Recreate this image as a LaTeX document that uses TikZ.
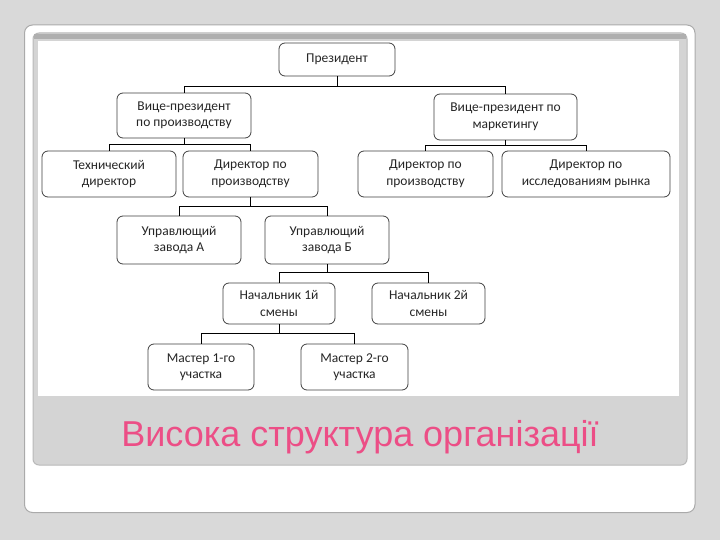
\documentclass[tikz,border=0pt]{standalone}
\usepackage{fontspec}
\setmainfont{Carlito}
\newfontfamily\titlefont{Liberation Sans}
\definecolor{bgc}{RGB}{217,217,217}
\definecolor{cardedge}{RGB}{170,170,170}
\definecolor{bandedge}{RGB}{185,185,185}
\definecolor{bandfill}{RGB}{212,212,212}
\definecolor{bandtop}{RGB}{175,175,175}
\definecolor{titlepink}{RGB}{236,78,134}
\begin{document}
\begin{tikzpicture}[x=1pt,y=-1pt,
  box/.style={draw=black!75,line width=0.8pt,rounded corners=6pt,fill=white,align=center,
    inner sep=0pt,font=\fontsize{13.5}{16.5}\selectfont,text=black!85},
  conn/.style={draw=black,line width=0.9pt}]
\useasboundingbox (0,0) rectangle (720,540);
\fill[bgc] (0,0) rectangle (720,540);
% card
\draw[draw=cardedge,line width=1pt,fill=white,rounded corners=8pt] (24.5,25) rectangle (695,512.5);
% band
\draw[draw=bandedge,line width=1pt,fill=bandfill,rounded corners=6pt] (33,33) rectangle (687,465);
\fill[bandtop] (34,34) rectangle (686,39);
\fill[white] (38,41) rectangle (679,396);
% nodes
\node[box,minimum width=116pt,minimum height=33pt] (pres) at (337,59.5) {Президент};
\node[box,minimum width=134pt,minimum height=45pt] (vp1) at (184,115.5) {Вице-президент\\по производству};
\node[box,minimum width=143pt,minimum height=46pt] (vp2) at (505.5,117) {Вице-президент по\\маркетингу};
\node[box,minimum width=134pt,minimum height=46pt] (tech) at (109,174) {Технический\\директор};
\node[box,minimum width=135pt,minimum height=46pt] (dir1) at (250.5,174) {Директор по\\производству};
\node[box,minimum width=135pt,minimum height=46pt] (dir2) at (425.5,174) {Директор по\\производству};
\node[box,minimum width=168pt,minimum height=46pt] (dir3) at (586,174) {Директор по\\исследованиям рынка};
\node[box,minimum width=124pt,minimum height=48pt] (ua) at (179,240) {Управлющий\\завода А};
\node[box,minimum width=124pt,minimum height=48pt] (ub) at (327,240) {Управлющий\\завода Б};
\node[box,minimum width=112pt,minimum height=41pt] (n1) at (279,303.5) {Начальник 1й\\смены};
\node[box,minimum width=113pt,minimum height=41pt] (n2) at (428.5,303.5) {Начальник 2й\\смены};
\node[box,minimum width=106pt,minimum height=46pt] (m1) at (201,367) {Мастер 1-го\\участка};
\node[box,minimum width=107pt,minimum height=46pt] (m2) at (354.5,367) {Мастер 2-го\\участка};
% connectors
\draw[conn] (pres.south) -- ++(0,10) -| (vp1.north);
\draw[conn] (pres.south) ++(0,10) -| (vp2.north);
\draw[conn] (vp1.south) -- ++(0,6.5) -| (tech.north);
\draw[conn] (vp1.south) ++(0,6.5) -| (dir1.north);
\draw[conn] (vp2.south) -- ++(0,5.5) -| (dir2.north);
\draw[conn] (vp2.south) ++(0,5.5) -| (dir3.north);
\draw[conn] (dir1.south) -- ++(0,9.5) -| (ua.north);
\draw[conn] (dir1.south) ++(0,9.5) -| (ub.north);
\draw[conn] (ub.south) -- ++(0,8) -| (n1.north);
\draw[conn] (ub.south) ++(0,8) -| (n2.north);
\draw[conn] (n1.south) -- ++(0,9) -| (m1.north);
\draw[conn] (n1.south) ++(0,9) -| (m2.north);
% title
\node[font=\titlefont\fontsize{36}{40}\selectfont,text=titlepink] (title) at (360,437) {Висока структура організації};
\end{tikzpicture}
\end{document}
